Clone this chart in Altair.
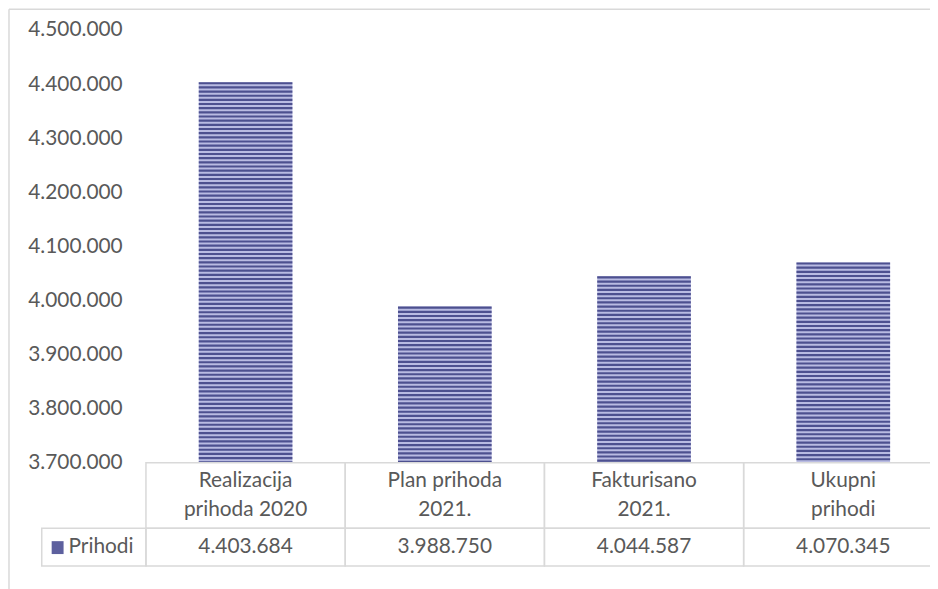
import altair as alt
import pandas as pd

# ---- data ----
categories = ["Realizacija\nprihoda 2020", "Plan prihoda\n2021.", "Fakturisano\n2021.", "Ukupni\nprihodi"]
values = [4403684, 3988750, 4044587, 4070345]
series_name = "Prihodi"
y_ticks = [3700000, 3800000, 3900000, 4000000, 4100000, 4200000, 4300000, 4400000, 4500000]

df = pd.DataFrame({"cat": categories, "value": values})
legend_df = pd.DataFrame({"series": [series_name]})

# ---- styling ----
FONT = "Lato"
FS = 21
TXT = "#595959"
LINE = "#d9d9d9"
DARK = "#4d508f"
LIGHT = "#b9bbe2"
BASE = y_ticks[0]

dotfmt = "replace(format(datum.value, ',.0f'), regexp(',', 'g'), '.')"

xscale = alt.Scale(domain=categories, range=[0, 803], paddingInner=0, paddingOuter=0)
yscale = alt.Scale(domain=[y_ticks[0], y_ticks[-1]], zero=False, nice=False)
yaxis = alt.Axis(values=y_ticks, grid=False, domain=False, ticks=False, labelPadding=24,
                 labelFont=FONT, labelFontSize=FS, labelColor=TXT, title=None,
                 labelExpr=dotfmt)

X = alt.X("cat:N", scale=xscale, axis=None, sort=categories)

bars = alt.Chart(df).mark_bar(width=alt.RelativeBandSize(0.47), color=LIGHT).encode(
    x=X,
    y=alt.Y("value:Q", scale=yscale, axis=yaxis),
    y2=alt.datum(BASE),
)

stripes = (
    alt.Chart(df)
    .transform_calculate(s=f"sequence(datum.value, {BASE}, -7700)")
    .transform_flatten(["s"])
    .transform_calculate(s2=f"max(datum.s - 4000, {BASE})")
    .mark_bar(width=alt.RelativeBandSize(0.47), color=DARK)
    .encode(x=X, y=alt.Y("s:Q", scale=yscale, axis=yaxis), y2="s2:Q")
)

cells_top = alt.Chart(df).mark_rect(fillOpacity=0, stroke=LINE, strokeWidth=1.5).encode(
    x=X, y=alt.value(436), y2=alt.value(502)
)
cells_bot = alt.Chart(df).mark_rect(fillOpacity=0, stroke=LINE, strokeWidth=1.5).encode(
    x=X, y=alt.value(502), y2=alt.value(540)
)

cat_text = alt.Chart(df).mark_text(
    lineBreak="\n", lineHeight=30, font=FONT, fontSize=FS, color=TXT, baseline="middle", align="center"
).encode(x=X, y=alt.value(454), text="cat:N")

val_text = (
    alt.Chart(df)
    .transform_calculate(label=dotfmt)
    .mark_text(font=FONT, fontSize=FS, color=TXT, baseline="middle", align="center")
    .encode(x=X, y=alt.value(521), text="label:N")
)

legend_cell = alt.Chart(legend_df).mark_rect(fillOpacity=0, stroke=LINE, strokeWidth=1.5).encode(
    x=alt.value(-105), x2=alt.value(0), y=alt.value(502), y2=alt.value(540)
)
swatch = alt.Chart(legend_df).mark_rect(color="#5d609e").encode(
    x=alt.value(-95), x2=alt.value(-83), y=alt.value(515), y2=alt.value(528)
)
legend_text = alt.Chart(legend_df).mark_text(
    font=FONT, fontSize=FS, color=TXT, baseline="middle", align="left"
).encode(x=alt.value(-78), y=alt.value(521), text="series:N")

border_top = alt.Chart(legend_df).mark_rule(color=LINE, strokeWidth=1.5).encode(
    x=alt.value(-138), x2=alt.value(800), y=alt.value(-21)
)
border_left = alt.Chart(legend_df).mark_rule(color=LINE, strokeWidth=1.5).encode(
    x=alt.value(-138), y=alt.value(-21), y2=alt.value(600)
)

chart = (
    alt.layer(border_top, border_left, bars, stripes, cells_top, cells_bot, cat_text, val_text,
              legend_cell, swatch, legend_text)
    .properties(width=790, height=436, autosize=alt.AutoSizeParams(type="none"),
                padding={"left": 139, "top": 20, "right": 0, "bottom": 125},
                background="white")
    .configure_view(stroke=None)
)

chart.save("out.html", embed_options={"renderer": "svg", "actions": False})
